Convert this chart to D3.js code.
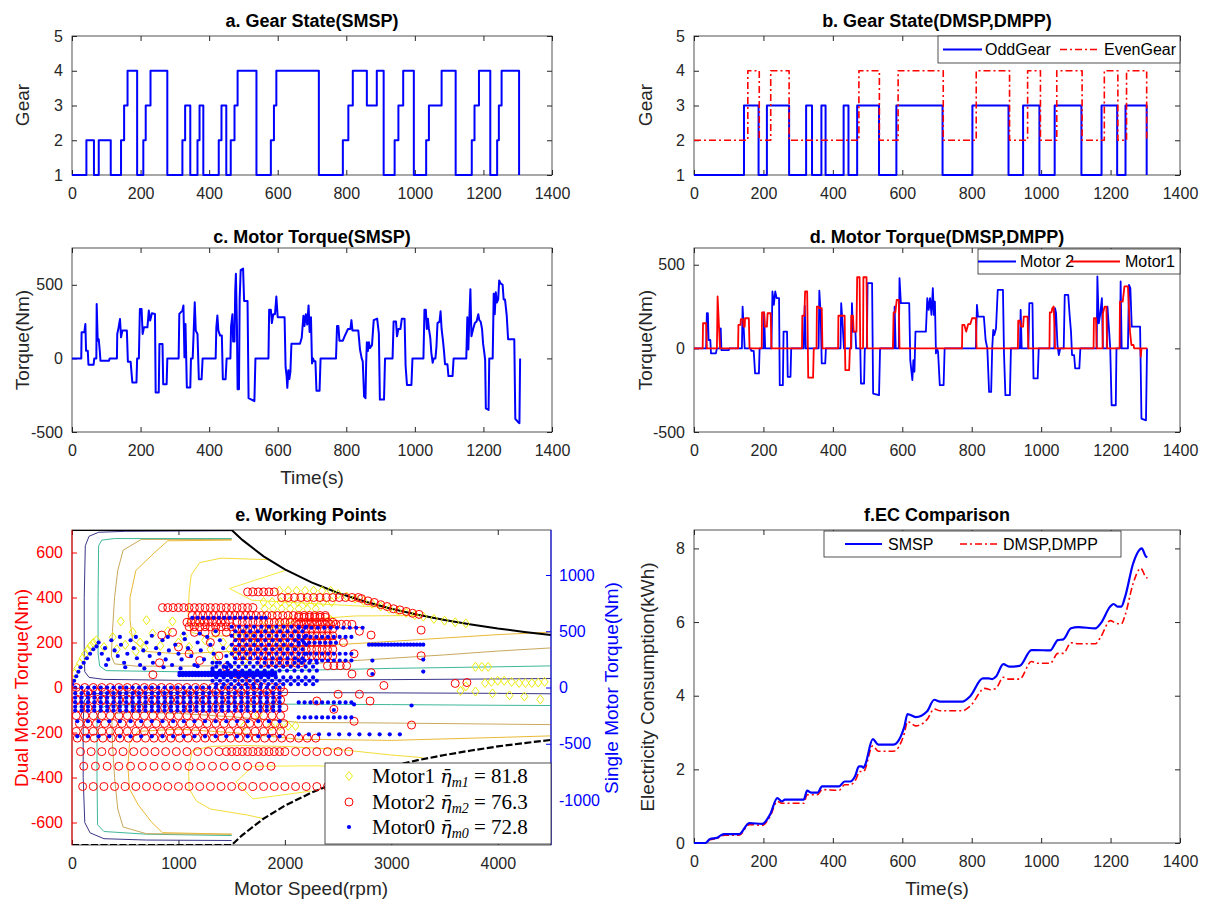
<!DOCTYPE html>
<html><head><meta charset="utf-8">
<script src="https://cdn.jsdelivr.net/npm/d3@7"></script>
<style>
body{margin:0;background:#fff;}
svg{display:block;font-family:'Liberation Sans',Arial,sans-serif;}
.tick text{font-size:16px;fill:#262626;font-family:'Liberation Sans',Arial,sans-serif;}
.tick line{stroke:#262626;}
.domain{display:none;}
.ttl{font-size:18px;font-weight:bold;fill:#000;text-anchor:middle;}
.lab{font-size:19px;fill:#262626;text-anchor:middle;}
.leg{font-size:16px;fill:#000;}
</style></head><body>
<script>
// ---------------- DATA ----------------
const timeTicks=[0,200,400,600,800,1000,1200,1400];
const gearTicks=[1,2,3,4,5];
const torqueTicks=[-500,0,500];
const ecTicks=[0,2,4,6,8];
const speedTicks=[0,1000,2000,3000,4000];
const dualTicks=[-600,-400,-200,0,200,400,600];
const singleTicks=[-1000,-500,0,500,1000];

// a. gear SMSP [time, gear]
const gearSMSP=[[0,1],[42,2],[64,1],[78,2],[113,1],[143,2],[152,3],[162,4],[190,1],[208,2],[215,3],[229,4],[278,1],[322,2],[330,3],[345,1],[366,2],[372,3],[383,1],[428,2],[436,3],[450,1],[463,2],[474,3],[483,4],[538,1],[580,2],[589,3],[596,4],[720,1],[790,2],[806,3],[819,4],[860,3],[889,4],[909,1],[941,2],[952,3],[966,4],[997,1],[1033,2],[1041,3],[1078,4],[1119,1],[1166,2],[1174,3],[1187,4],[1220,1],[1240,2],[1245,3],[1253,4],[1304,1]];
// b. odd / even gear
const gearOdd=[[0,1],[144,3],[186,1],[210,3],[274,1],[323,3],[340,1],[367,3],[379,1],[431,3],[445,1],[470,3],[533,1],[583,3],[716,1],[802,3],[906,1],[948,3],[995,1],[1039,3],[1116,1],[1174,3],[1219,1],[1243,3],[1304,1]];
const gearEven=[[0,2],[155,4],[188,2],[221,4],[274,2],[475,4],[534,2],[588,4],[718,2],[813,4],[909,2],[961,4],[998,2],[1045,4],[1118,2],[1182,4],[1221,2],[1246,4],[1304,2]];
// c. torque SMSP
const torqueSMSP=[[0,0],[27,0],[28,177],[36,177],[39,234],[41,52],[46,52],[48,-43],[63,-43],[65,0],[71,0],[72,370],[75,120],[78,130],[81,52],[83,-16],[108,-16],[110,0],[131,0],[132,166],[136,211],[140,268],[143,143],[147,189],[160,189],[163,-23],[171,-23],[176,-164],[188,-164],[190,0],[195,0],[198,336],[203,336],[206,166],[210,211],[220,211],[224,325],[228,257],[233,307],[242,302],[244,-232],[253,-232],[255,98],[264,98],[266,-175],[276,-175],[278,0],[311,0],[313,302],[322,325],[325,359],[328,7],[331,234],[335,-198],[345,-198],[347,0],[352,0],[355,189],[358,382],[361,189],[366,166],[370,-141],[378,-141],[381,0],[419,0],[421,211],[424,291],[427,189],[432,155],[437,155],[440,-141],[448,-141],[451,0],[462,0],[464,220],[468,300],[470,115],[474,115],[476,455],[478,575],[481,230],[483,-210],[487,-210],[489,400],[492,600],[499,610],[502,390],[512,390],[515,-270],[532,-290],[535,0],[573,0],[575,330],[580,330],[583,240],[587,300],[592,300],[596,420],[600,280],[620,280],[623,-60],[626,-120],[628,-200],[631,-80],[634,-140],[637,-90],[640,100],[665,100],[670,140],[675,290],[678,220],[682,300],[686,230],[690,360],[693,180],[697,280],[700,-35],[703,0],[706,-20],[710,-20],[713,-220],[722,-220],[725,0],[770,0],[773,220],[777,220],[780,120],[790,120],[795,150],[805,200],[812,200],[815,260],[818,190],[835,190],[840,60],[845,0],[848,-20],[852,-260],[856,-270],[858,-30],[860,110],[863,50],[866,110],[869,70],[875,90],[880,260],[890,270],[895,170],[898,-280],[910,-280],[913,0],[935,0],[938,250],[945,250],[948,150],[952,200],[958,200],[962,270],[970,270],[973,-50],[977,-180],[990,-180],[993,0],[1025,0],[1028,330],[1032,330],[1035,200],[1038,270],[1041,200],[1045,140],[1048,40],[1052,-30],[1055,0],[1060,0],[1063,80],[1066,240],[1072,250],[1075,320],[1078,200],[1082,120],[1085,50],[1088,-40],[1095,-40],[1098,-120],[1110,-120],[1113,0],[1150,0],[1153,280],[1156,60],[1159,280],[1162,470],[1165,150],[1170,200],[1175,240],[1180,250],[1185,300],[1188,260],[1192,250],[1196,200],[1199,100],[1202,50],[1205,-10],[1207,-340],[1215,-350],[1217,0],[1227,0],[1230,440],[1233,300],[1236,450],[1239,380],[1243,400],[1246,530],[1250,510],[1256,500],[1259,400],[1263,400],[1268,290],[1272,130],[1290,130],[1293,-410],[1300,-430],[1305,-440],[1307,0]];
// d. motor 2 / motor 1 torque
const torqueM2=[[0,0],[35,0],[37,210],[40,210],[42,50],[47,50],[49,-30],[63,-30],[66,0],[75,0],[77,120],[79,-10],[100,-10],[102,0],[138,0],[140,250],[143,130],[146,0],[163,0],[165,-15],[172,-15],[176,-150],[187,-150],[189,0],[200,0],[202,215],[205,0],[223,0],[226,340],[230,260],[234,340],[238,300],[245,300],[247,-220],[256,-220],[258,100],[268,100],[270,-170],[278,-170],[280,0],[316,0],[319,255],[322,0],[359,0],[361,345],[365,200],[368,-90],[378,-90],[380,0],[422,0],[424,270],[428,150],[432,0],[453,0],[455,270],[458,100],[465,100],[467,0],[479,0],[481,-210],[490,-210],[492,0],[498,0],[500,390],[513,390],[516,-270],[533,-280],[536,0],[576,0],[578,250],[581,0],[590,0],[592,420],[596,270],[620,270],[623,-70],[626,-130],[629,-190],[632,-70],[635,-140],[638,100],[668,100],[672,300],[676,230],[680,300],[684,200],[688,360],[691,200],[694,280],[697,-30],[700,0],[703,-20],[708,-220],[719,-220],[722,0],[812,0],[815,260],[818,190],[835,190],[840,50],[845,0],[850,-260],[856,-260],[859,0],[862,110],[865,80],[870,120],[875,350],[890,350],[893,-30],[897,-280],[910,-280],[913,0],[939,0],[941,230],[944,0],[963,0],[966,270],[975,270],[978,-180],[990,-180],[993,0],[1038,0],[1040,240],[1043,210],[1047,20],[1051,-40],[1055,0],[1065,0],[1068,320],[1078,320],[1082,200],[1086,100],[1089,-40],[1095,-40],[1098,-120],[1110,-120],[1113,0],[1160,0],[1162,430],[1166,150],[1170,200],[1175,300],[1178,0],[1189,0],[1191,250],[1195,130],[1199,0],[1203,-340],[1215,-340],[1217,0],[1227,0],[1229,400],[1232,0],[1250,0],[1253,380],[1257,360],[1261,130],[1285,130],[1289,-420],[1302,-430],[1305,0]];
const torqueM1=[[0,0],[25,0],[26,150],[35,150],[37,0],[66,0],[68,310],[72,130],[75,0],[127,0],[128,140],[134,140],[135,175],[141,175],[143,130],[146,130],[147,180],[158,180],[160,0],[195,0],[196,215],[202,215],[204,130],[210,130],[212,210],[221,210],[223,0],[311,0],[312,195],[318,195],[320,340],[326,340],[328,0],[329,-175],[343,-175],[345,0],[353,0],[354,250],[359,250],[361,240],[368,240],[370,0],[415,0],[416,195],[434,195],[435,0],[436,-130],[447,-130],[449,0],[452,0],[453,195],[458,195],[460,100],[468,100],[470,425],[477,425],[479,0],[487,0],[488,425],[497,425],[499,0],[573,0],[575,215],[580,215],[584,290],[590,290],[592,0],[772,0],[773,140],[779,140],[784,100],[790,145],[796,145],[801,180],[812,180],[814,0],[933,0],[934,165],[939,165],[942,130],[948,130],[950,190],[961,190],[963,0],[1024,0],[1025,215],[1030,215],[1032,240],[1036,250],[1038,150],[1040,0],[1151,0],[1152,180],[1158,180],[1160,0],[1177,0],[1178,210],[1183,250],[1188,250],[1190,0],[1226,0],[1227,280],[1235,280],[1240,370],[1250,370],[1256,100],[1260,20],[1266,20],[1268,0],[1286,0],[1287,-50],[1289,0],[1306,0]];
// f. energy consumption
const ecSMSP=[[0,0],[33,0],[46,0.11],[66,0.14],[76,0.2],[87,0.24],[130,0.24],[159,0.54],[197,0.52],[219,0.77],[240,1.22],[253,1.13],[262,1.18],[316,1.18],[326,1.42],[337,1.37],[356,1.37],[369,1.54],[418,1.54],[434,1.67],[450,1.67],[464,1.81],[475,2.08],[483,2.08],[488,2.04],[493,2.12],[515,2.82],[531,2.67],[574,2.67],[606,3.16],[615,3.5],[639,3.42],[671,3.57],[692,3.89],[709,3.84],[773,3.84],[795,3.98],[832,4.47],[849,4.47],[859,4.45],[870,4.52],[891,4.86],[908,4.79],[938,4.81],[972,5.24],[983,5.24],[1026,5.23],[1048,5.51],[1064,5.53],[1086,5.83],[1107,5.86],[1156,5.83],[1172,5.97],[1199,6.42],[1209,6.49],[1220,6.42],[1231,6.42],[1242,6.69],[1265,7.59],[1290,8.0],[1301,7.79],[1306,7.76]];
const ecDMSP=[[0,0],[33,0],[46,0.09],[66,0.12],[76,0.18],[87,0.21],[130,0.21],[159,0.5],[197,0.48],[219,0.72],[240,1.13],[253,1.08],[316,1.08],[326,1.31],[356,1.31],[369,1.45],[418,1.43],[434,1.58],[450,1.58],[466,1.72],[477,1.94],[488,1.94],[515,2.64],[531,2.49],[574,2.49],[606,2.98],[615,3.3],[639,3.18],[671,3.35],[692,3.64],[709,3.59],[773,3.59],[795,3.71],[838,4.2],[854,4.16],[870,4.2],[891,4.5],[908,4.45],[938,4.45],[972,4.93],[989,4.88],[1026,4.88],[1048,5.15],[1064,5.15],[1086,5.44],[1107,5.41],[1156,5.41],[1172,5.6],[1199,6.04],[1215,5.97],[1231,5.95],[1242,6.19],[1265,7.05],[1287,7.46],[1301,7.23],[1306,7.19]];

// e. working points: torque limits [rpm], [Nm]
const limitSpeed=[0,1500,1600,1800,2000,2250,2500,2750,3000,3250,3500,3750,4000,4250,4500];
const limitMax=[700,700,656,583,525,467,420,382,350,323,300,280,262,247,233];
const limitMin=[-700,-700,-656,-583,-525,-467,-420,-382,-350,-323,-300,-280,-262,-247,-233];
// efficiency contour lines [rpm, Nm]
const contourNavy=[[[1500,697],[500,694],[250,690],[160,672],[125,630],[115,400],[115,150],[120,70],[160,45],[300,36],[1000,32],[2000,33],[3000,35],[4000,38],[4500,40]],
 [[1500,-680],[700,-678],[300,-672],[170,-646],[120,-600],[105,-400],[105,-150],[115,-60],[160,-32],[300,-24],[1000,-22],[2000,-22],[3000,-24],[4000,-26],[4500,-28]]];
const contourTeal=[[[1500,662],[400,662],[280,655],[250,630],[245,400],[245,150],[260,95],[320,75],[1000,70],[2000,75],[2500,80],[3000,85],[4000,92],[4500,96]],
 [[1500,-658],[700,-652],[300,-640],[240,-610],[235,-400],[235,-150],[250,-100],[320,-80],[1000,-72],[2000,-74],[3000,-76],[4000,-79],[4500,-80]]];
const contourTan=[[[1500,658],[650,658],[480,610],[430,520],[400,400],[380,250],[370,140],[400,105],[600,95],[1000,95],[1500,97],[2130,101],[2500,115],[3000,130],[3500,145],[4000,162],[4500,176]],
 [[1500,-652],[700,-650],[480,-620],[430,-540],[400,-400],[380,-250],[375,-150],[400,-115],[600,-110],[1000,-115],[1500,-130],[2130,-155],[3000,-158],[4500,-165]]];
const contourOrange=[[[1500,655],[900,652],[790,606],[600,520],[545,400],[545,300],[570,210],[700,160],[1000,150],[1500,160],[2130,180],[3000,205],[4000,235],[4500,246]],
 [[1500,-652],[850,-645],[750,-600],[620,-520],[540,-450],[525,-350],[540,-250],[620,-195],[1000,-185],[1500,-200],[2130,-230],[3000,-235],[4000,-222],[4500,-215]]];
const contourYellow=[[[1850,568],[1400,575],[1200,555],[1120,500],[1100,420],[1090,300],[1120,245],[1300,225],[1700,240],[2130,300],[2660,318],[3300,320],[3650,288]],
 [[1800,-583],[1650,-567],[1300,-540],[1170,-505],[1100,-450],[1095,-360],[1130,-280],[1300,-262],[1600,-258],[2000,-262],[2500,-275],[3000,-300],[3300,-312]]];
const contourInner=[[[2000,520],[1480,440],[1690,388],[2300,372],[2950,356]],
 [[2250,-460],[1700,-495],[1540,-420],[1700,-350],[2300,-348],[2900,-360]]];

// speed grids [rpm]
const gA=[40,120,200,280,360,440,520,600,680,760,840,920,1000,1080,1160,1240,1320,1400,1480,1560,1640,1720,1800,1880,1960];
const gB=[70,150,230,310,390,470,550,630,710,790,870,950,1030,1110,1190,1270,1350,1430,1510,1590,1670,1750,1830,1910,1990];
const gC1=[1320,1390,1460,1530,1600,1670,1740,1810,1880,1950,2020,2090,2160,2230,2300];
const gC2=[1355,1425,1495,1565,1635,1705,1775,1845,1915,1985,2055,2125,2195,2265];
const gC3=[1500,1570,1640,1710,1780,1850,1920,1990,2060,2130,2200];
const gC4=[1535,1605,1675,1745,1815,1885,1955,2025,2095,2165];
const gD=[30,90,150,210,270,330,390,450,510,570,630,690,750,810,870,930,990,1050,1110,1170,1230,1290,1350,1410,1470,1530,1590,1650,1710,1770,1830,1890,1950];
const gE=[1550,1600,1650,1700,1750,1800,1850,1900,1950,2000,2050,2100,2150,2200,2250,2300,2350,2400,2450];
const gF=[2130,2185,2240,2295,2350,2405,2460,2515,2570,2625];
const gG=[1130,1180,1230,1280,1330,1380,1430,1480,1530,1580,1630,1680,1730,1780,1830,1880,1930,1980,2030,2080,2130,2180,2230,2280,2330,2380];
const gH=[1080,1120,1160,1200,1240,1280,1320,1360,1400,1440,1480];
const gI=[1130,1180,1230,1280,1330,1380,1430,1480,1530,1580,1630,1680,1730,1780,1820];
const gJ=[2130,2190,2250,2310,2370,2430,2490,2550,2610,2670,2730];
const gK=[2790,2820,2850,2880,2910,2940,2970,3000,3030,3060,3090,3120,3150,3180,3210,3240,3270,3300];
const gL=[1010,1040,1070,1100,1130,1160,1190,1220,1250,1280,1310,1340,1370,1400,1430,1460,1490,1520,1550,1580,1610,1640,1670,1700,1730,1760,1790,1820,1850,1880,1910];
const gN=[100,200,300,400,500,600,700,800,900,1000,1100,1200,1300,1400,1500,1600,1700,1800,1900,2000,2100,2200,2300,2400];
const gO=[2130,2225,2320,2415,2510,2605,2700,2795,2890,2985,3080];
const gP=[50,150,250,350,450,550,650,750,850,950,1050,1150,1250,1350,1450,1550,1650,1750,1850,1950];
const gQ=[850,900,950,1000,1050,1100,1150,1200,1250,1300,1350,1400,1450,1500,1550,1600,1650,1700];
const g350=[110,220,330,440,550,660,770,880,990,1100,1210,1320,1430,1540,1650,1760,1870];
const g285=[80,180,280,380,480,580,680,780,880,980,1080,1180,1280,1380,1450,1500,1550,1600,1650,1700,1750,1800,1850,1900,1950,2000,2100,2200,2300,2400,2500,2600];
const g225=[50,130,210,290,370,450,530,610,690,770,850,930,1010,1090,1170,1250,1330,1410,1490,1570,1650,1730,1810,1890,1970,2050,2130,2210,2290];

// Motor1 (yellow diamonds) [rpm, dual-axis Nm]
const motor1Pts=[[0,40],[25,62],[50,85],[75,108],[100,130],[125,150],[150,168],[175,185],[200,198],[230,210],
 [300,180],[383,224],[420,170],[458,294],[500,190],[570,246],[600,160],[640,200],[680,175],[700,299],[757,240],[830,185],[900,250],[944,294],[1000,200],[1050,230],[1100,180],[1180,290],[1250,210],[1300,170],[1350,240],[1420,200],[1480,170],[1550,230],[1600,190],[1650,250],[1700,220],[1750,200],[1520,150],[1620,120],[1350,130],
 [1800,300],[1850,260],[1900,230],[1950,280],[2000,250],[2050,300],[1880,200],[1980,190],
 [1950,430],[2030,430],[2110,430],[2190,430],[2270,430],[2350,430],[2430,430],
 [2500,415],[2580,405],[2660,395],[2740,385],[2820,372],[2900,360],[2980,350],[3060,340],[3140,332],[3220,322],[3300,315],[3400,305],[3500,297],[3600,290],[3700,285],
 [1800,380],[1880,380],[1960,380],[2040,380],[2120,380],[2200,380],[2280,380],[2360,380],[2440,380],
 [1810,350],[1890,350],[1970,350],[2050,350],[2130,350],[2210,350],[2290,350],[2430,300],
 [3790,92],[3850,92],[3910,92],[3700,5],[3880,20],[3940,25],[4000,30],[4060,30],[4130,25],[4200,20],[4260,20],[4320,20],[4380,22],[4440,25],
 [3650,-15],[3790,-18],[3950,-26],[4110,-35],[4250,-40],[4400,-53],
 [1617,-171],[1870,-171],[1950,-171],[2030,-171],[2100,-171],[1680,-100],[1750,-120],[1820,-90]];
// Motor2 (red circles) rows [Nm, rpm list] and single points
const motor2Rows=[[-440,gN],[-350,g350],[-285,g285],[-225,g225],[-195,gA],[-160,gB],[-125,gA],[-90,gB],[-55,gA],[-20,gB],[0,gA],
 [425,[1650,1700,1750,1800,1850,1900]],[400,[1970,2030,2090,2150,2210,2270,2330,2390,2450,2510,2570,2630,2690]],
 [355,gQ],[320,gG],[290,gH],[290,gE],[260,gE],[230,gE],[200,gE],[170,gE],[140,gE],[110,[1800,1850,1900,1950,2000,2050,2100,2150]],
 [270,[1100,1150,1200,1250,1300,1350,1400,1450,1500]],[245,[1150,1250,1350,1450]],
 [281,[2130,2180,2230,2280,2330,2380,2430,2480,2530,2580,2630]],[312,[2130,2180,2230,2280,2330,2380]]];
const motor2Pts=[[2720,395],[2780,385],[2840,378],[2900,368],[2960,360],[3020,350],[3080,345],[3140,338],[3200,330],[3260,325],
 [945,245],[843,233],[822,110],[760,57],[1000,180],[1100,150],[1200,120],[1300,200],[1380,140],[1450,90],[1550,60],[1600,30],[1680,30],[1750,10],
 [2400,97],[2460,97],[2520,97],[2580,97],[2630,60],[2810,233],[2810,66],[2930,9],[3280,255],[3280,141],[3600,18],[3710,22],[2700,250],[2650,150],[2550,200],
 [2460,-97],[2650,-150],[3190,-167],[2300,-60],[2500,-30],[2700,-30],[2800,-60]];
// Motor0 (blue dots) rows [single-axis Nm, rpm list] and single points
const motor0Rows=[[620,gI],[531,gJ],[450,gF],[398,[2130,2180,2230,2280,2330,2380,2430,2480]],[381,gK],[300,gF],[240,gF],[130,gL],[110,gL],[0,gD],
 [540,gC3],[500,gC4],[460,gC3],[420,gC4],[380,gC3],[340,gC4],[300,gC3],[260,gC4],[220,gC1],[185,gC2],[150,gC1],[90,gC2],[60,gC1],[30,gC2],
 [-50,gD],[-90,gD],[-130,gD],[-170,gD],[-205,gD],[-300,gP],[-434,gP],[-416,gO],[-133,gF],[-266,gF]];
const motor0Pts=[[0,30],[20,60],[40,100],[60,140],[80,180],[110,220],[140,260],[170,300],[200,340],[230,365],
 [250,400],[280,300],[310,350],[340,250],[370,420],[400,330],[430,280],[460,380],[490,220],[520,300],[550,420],[580,350],[610,260],[640,200],[670,330],[700,400],[730,280],[760,220],[790,350],[820,300],[850,420],[880,250],[910,330],[940,200],[970,380],[1000,300],[1030,250],[1060,430],[1090,350],[1120,280],[1150,200],[1180,400],[1210,330],[1240,250],[1270,450],[1300,380],[1330,300],[1360,220],[1390,420],[1420,350],[1450,280],[1480,200],
 [320,200],[450,450],[600,450],[750,460],[900,450],[1050,480],[1200,480],[1350,500],[500,180],[680,170],[860,180],[1020,170],[1180,190],[1320,170],[1450,180],
 [2650,-150],[3190,-160],[2460,-200],[2822,239],[2822,120],[3300,248],[3300,142]];
const effLabels=[["Motor1","m1","81.8"],["Motor2","m2","76.3"],["Motor0","m0","72.8"]];

// ---------------- DRAW ----------------
const svg=d3.select('body').append('svg').attr('width',1212).attr('height',902);
const fmt=d=>String(d);
const blank=()=> '';
function frame(x,y,xt,yt,opt={}){
  const g=svg.append('g');
  const [xa,xb]=x.range(),[ya,yb]=y.range();
  g.append('rect').attr('x',xa).attr('y',yb).attr('width',xb-xa).attr('height',ya-yb).attr('fill','#fff');
  g.append('g').attr('transform',`translate(0,${ya})`).call(d3.axisBottom(x).tickValues(xt).tickFormat(fmt).tickSize(-5).tickPadding(13));
  g.append('g').attr('transform',`translate(0,${yb})`).call(d3.axisTop(x).tickValues(xt).tickFormat(blank).tickSize(-5));
  if(!opt.custom){
    g.append('g').attr('transform',`translate(${xa},0)`).call(d3.axisLeft(y).tickValues(yt).tickFormat(fmt).tickSize(-5).tickPadding(9));
    g.append('g').attr('transform',`translate(${xb},0)`).call(d3.axisRight(y).tickValues(yt).tickFormat(blank).tickSize(-5));
  }
  g.append('rect').attr('x',xa).attr('y',yb).attr('width',xb-xa).attr('height',ya-yb).attr('fill','none').attr('stroke','#262626').attr('stroke-width',0.8);
  return g;
}
function title(x,y,t){svg.append('text').attr('class','ttl').attr('x',x).attr('y',y).text(t);}
function ylab(x,y,t,c){svg.append('text').attr('class','lab').attr('transform',`translate(${x},${y}) rotate(-90)`).attr('dy','0.35em').style('fill',c||'#262626').text(t);}
function xlab(x,y,t){svg.append('text').attr('class','lab').attr('x',x).attr('y',y).attr('dy','0.35em').text(t);}
function path(data,x,y,color,w,dash,curve){
  svg.append('path').datum(data).attr('fill','none').attr('stroke',color).attr('stroke-width',w)
   .attr('stroke-dasharray',dash||null).attr('stroke-linejoin','round')
   .attr('d',d3.line().x(d=>x(d[0])).y(d=>y(d[1])).curve(curve||d3.curveLinear));
}
const DASHDOT='7,3,2,3';

// ---- a
const xL=d3.scaleLinear([0,1400],[72,552]), xR=d3.scaleLinear([0,1400],[694,1180]);
const yG_L=d3.scaleLinear([1,5],[175,36]), yG_R=d3.scaleLinear([1,5],[175,36]);
frame(xL,yG_L,timeTicks,gearTicks);
path(gearSMSP,xL,yG_L,'#0000ff',2,null,d3.curveStepAfter);
title(312,27,'a. Gear State(SMSP)'); ylab(22,105,'Gear');
// ---- b
frame(xR,yG_R,timeTicks,gearTicks);
path(gearOdd,xR,yG_R,'#0000ff',2,null,d3.curveStepAfter);
path(gearEven,xR,yG_R,'#ff0000',1.6,DASHDOT,d3.curveStepAfter);
title(937,27,'b. Gear State(DMSP,DMPP)'); ylab(645,105,'Gear');
function legendBox(x0,y0,x1,y1,items){
  svg.append('rect').attr('x',x0).attr('y',y0).attr('width',x1-x0).attr('height',y1-y0).attr('fill','#fff').attr('stroke','#262626').attr('stroke-width',0.8);
  const ym=(y0+y1)/2;
  items.forEach(it=>{
    svg.append('line').attr('x1',it.l0).attr('x2',it.l1).attr('y1',ym).attr('y2',ym).attr('stroke',it.c).attr('stroke-width',it.w).attr('stroke-dasharray',it.d||null);
    svg.append('text').attr('class','leg').attr('x',it.tx).attr('y',ym).attr('dy','0.36em').text(it.t);
  });
}
legendBox(938,36,1180,63,[{l0:943,l1:982,c:'#0000ff',w:2,tx:985,t:'OddGear'},{l0:1060,l1:1100,c:'#ff0000',w:1.6,d:DASHDOT,tx:1104,t:'EvenGear'}]);
// ---- c
const yT_c=d3.scaleLinear([-500,750],[432,248]);
frame(xL,yT_c,timeTicks,torqueTicks);
path(torqueSMSP,xL,yT_c,'#0000ff',2);
title(312,243,'c. Motor Torque(SMSP)'); ylab(22,340,'Torque(Nm)'); xlab(312,477,'Time(s)');
// ---- d
const yT_d=d3.scaleLinear([-500,600],[432,248]);
frame(xR,yT_d,timeTicks,torqueTicks);
path(torqueM2,xR,yT_d,'#0000ff',1.8);
path(torqueM1,xR,yT_d,'#ff0000',1.8);
title(937,243,'d. Motor Torque(DMSP,DMPP)'); ylab(645,340,'Torque(Nm)');
legendBox(978,249,1180,274,[{l0:978,l1:1016,c:'#0000ff',w:1.8,tx:1020,t:'Motor 2'},{l0:1070,l1:1120,c:'#ff0000',w:1.8,tx:1125,t:'Motor1'}]);
// ---- f
const yE_f=d3.scaleLinear([0,8.5],[843,530]);
frame(xR,yE_f,timeTicks,ecTicks);
path(ecDMSP,xR,yE_f,'#ff0000',1.6,DASHDOT,d3.curveMonotoneX);
path(ecSMSP,xR,yE_f,'#0000ff',2.2,null,d3.curveMonotoneX);
title(937,521,'f.EC Comparison'); ylab(647,687,'Electricity Consumption(kWh)'); xlab(937,888,'Time(s)');
legendBox(824,531,1121,557,[{l0:845,l1:882,c:'#0000ff',w:2.2,tx:888,t:'SMSP'},{l0:960,l1:998,c:'#ff0000',w:1.6,d:DASHDOT,tx:1003,t:'DMSP,DMPP'}]);
// ---- e
const xS=d3.scaleLinear([0,4500],[72,551]);
const yDual=d3.scaleLinear([-700,700],[845,530]);
const ySingle=d3.scaleLinear([-1400,1400],[845,530]);
frame(xS,yDual,speedTicks,dualTicks,{custom:true});
svg.append('defs').append('clipPath').attr('id','clipE').append('rect').attr('x',72).attr('y',530).attr('width',479).attr('height',315);
const gp=svg.append('g').attr('clip-path','url(#clipE)');
const lineE=d3.line().x(d=>xS(d[0])).y(d=>yDual(d[1]));
[[contourNavy,'#3a3587'],[contourTeal,'#3fb89a'],[contourTan,'#c8a85c'],[contourOrange,'#eab935'],[contourYellow,'#f3dc3a'],[contourInner,'#f6ea40']].forEach(([c,col])=>{
  c.forEach(seg=>gp.append('path').attr('d',lineE(seg)).attr('fill','none').attr('stroke',col).attr('stroke-width',1));
});
const maxPts=limitSpeed.map((s,i)=>[s,limitMax[i]]), minPts=limitSpeed.map((s,i)=>[s,limitMin[i]]);
gp.append('path').attr('d',lineE(maxPts)).attr('fill','none').attr('stroke','#000').attr('stroke-width',2);
gp.append('path').attr('d',lineE(minPts)).attr('fill','none').attr('stroke','#000').attr('stroke-width',2.2).attr('stroke-dasharray','7,2.5');
// scatter
const diamond='M0,-4.5L3.5,0L0,4.5L-3.5,0Z';
gp.selectAll('.m1').data(motor1Pts).join('path').attr('d',diamond)
  .attr('transform',d=>`translate(${xS(d[0])},${yDual(d[1])})`).attr('fill','none').attr('stroke','#ecec10').attr('stroke-width',1);
const m2=[];motor2Rows.forEach(([t,sp])=>sp.forEach(s=>m2.push([s,t])));motor2Pts.forEach(p=>m2.push(p));
gp.selectAll('.m2').data(m2).join('circle').attr('cx',d=>xS(d[0])).attr('cy',d=>yDual(d[1])).attr('r',4)
  .attr('fill','none').attr('stroke','#ff0000').attr('stroke-width',1);
const m0=[];motor0Rows.forEach(([t,sp])=>sp.forEach(s=>m0.push([s,t])));motor0Pts.forEach(p=>m0.push(p));
gp.selectAll('.m0').data(m0).join('circle').attr('cx',d=>xS(d[0])).attr('cy',d=>ySingle(d[1])).attr('r',2.1).attr('fill','#0000ff');
// e axes (left red, right blue)
const la=svg.append('g').attr('transform','translate(72,0)').call(d3.axisLeft(yDual).tickValues(dualTicks).tickFormat(fmt).tickSize(-5).tickPadding(9));
la.selectAll('text').style('fill','#ff0000'); la.selectAll('line').style('stroke','#ff0000');
svg.append('line').attr('x1',72).attr('x2',72).attr('y1',530).attr('y2',845).attr('stroke','#ff0000').attr('stroke-width',1);
const ra=svg.append('g').attr('transform','translate(551,0)').call(d3.axisRight(ySingle).tickValues(singleTicks).tickFormat(fmt).tickSize(-5).tickPadding(8));
ra.selectAll('text').style('fill','#0000ff'); ra.selectAll('line').style('stroke','#0000ff');
svg.append('line').attr('x1',551).attr('x2',551).attr('y1',530).attr('y2',845).attr('stroke','#0000ff').attr('stroke-width',1);
title(311,521,'e. Working Points');
ylab(21,688,'Dual Motor Torque(Nm)','#ff0000'); ylab(611,688,'Single Motor Torque(Nm)','#0000ff');
xlab(311,888,'Motor Speed(rpm)');
// e legend
svg.append('rect').attr('x',325).attr('y',763).attr('width',226).attr('height',81).attr('fill','#fff').attr('stroke','#262626').attr('stroke-width',0.8);
const rowsY=[776,802,827];
svg.append('path').attr('d',diamond).attr('transform',`translate(349,${rowsY[0]})`).attr('fill','none').attr('stroke','#ecec10');
svg.append('circle').attr('cx',349).attr('cy',rowsY[1]).attr('r',4).attr('fill','none').attr('stroke','#ff0000');
svg.append('circle').attr('cx',349).attr('cy',rowsY[2]).attr('r',2.1).attr('fill','#0000ff');
effLabels.forEach((l,i)=>{
  const t=svg.append('text').attr('x',372).attr('y',rowsY[i]+7).style('font-family',"'Liberation Serif','DejaVu Serif',serif").style('font-size','21px').style('fill','#000');
  t.append('tspan').text(l[0]+' ');
  t.append('tspan').style('font-style','italic').style('font-family',"'DejaVu Serif',serif").style('font-size','19px').text('\u03B7\u0304');
  t.append('tspan').style('font-style','italic').style('font-size','14px').attr('dy',4).text(l[1]);
  t.append('tspan').attr('dy',-4).text(' = '+l[2]);
});
</script>
</body></html>
